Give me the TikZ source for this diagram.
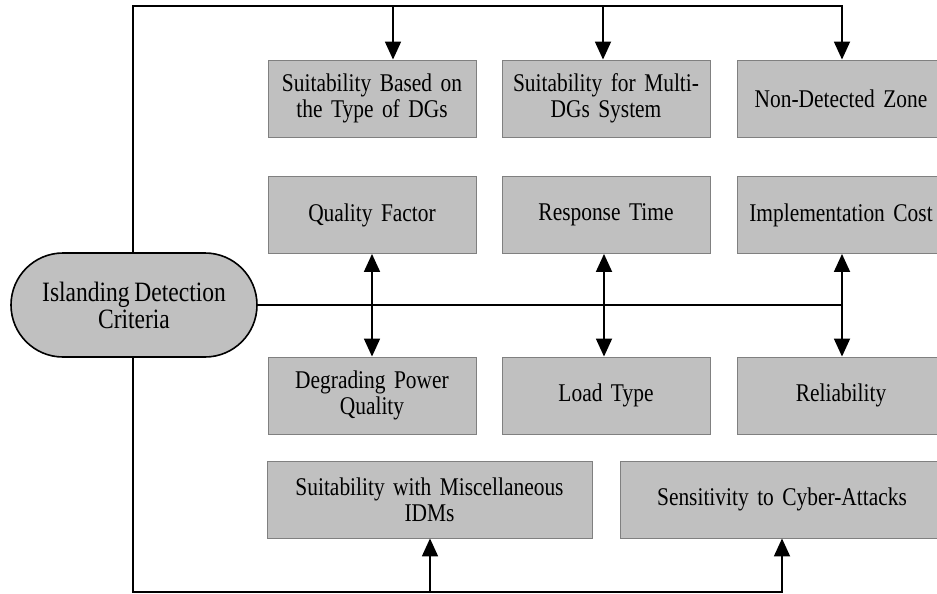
\documentclass[tikz,border=0pt]{standalone}
\usepackage{fontspec}
\setmainfont[FakeStretch=0.84,WordSpace=0.8]{Liberation Serif}
\usetikzlibrary{arrows.meta,shapes.misc}
\definecolor{boxfill}{RGB}{192,192,192}
\definecolor{boxline}{RGB}{128,128,128}
\tikzset{
  crit/.style={draw=boxline, line width=0.9pt, fill=boxfill, inner sep=0pt,
    minimum width=208pt, minimum height=77pt, align=center, text width=200pt,
    font=\fontsize{25.5}{26}\selectfont},
  widecrit/.style={crit, minimum width=325pt, text width=315pt},
  hub/.style={rounded rectangle, draw=black, line width=1.6pt, fill=boxfill,
    inner sep=0pt, minimum width=246pt, minimum height=104pt, align=center,
    font=\fontsize{28}{27}\selectfont},
  wire/.style={line width=1.8pt, line cap=rect},
  feed/.style={wire, -{Triangle[length=18pt,width=16pt]}},
  both/.style={wire, {Triangle[length=18pt,width=16pt]}-{Triangle[length=18pt,width=16pt]}}
}
\begin{document}
\begin{tikzpicture}[x=1pt, y=-1pt]
\useasboundingbox (0,0) rectangle (937,594);

% central criterion
\node[hub] (hub) at (134,305) {Islanding Detection\\Criteria};

% first row
\node[crit] (dgtype)  at (372,98.5) {Suitability Based on\\the Type of DGs};
\node[crit] (multi)   at (606,98.5) {Suitability for Multi-\\DGs System};
\node[crit] (ndz)     at (841,98.5) {Non-Detected Zone};
% second row
\node[crit] (quality) at (372,215) {Quality Factor};
\node[crit] (resp)    at (606,215) {Response Time};
\node[crit] (cost)    at (841,215) {Implementation Cost};
% third row
\node[crit] (degrade) at (372,395.5) {Degrading Power\\Quality};
\node[crit] (load)    at (606,395.5) {Load Type};
\node[crit] (rel)     at (841,395.5) {Reliability};
% fourth row
\node[widecrit] (misc)  at (429.5,499.5) {Suitability with Miscellaneous\\IDMs};
\node[widecrit, minimum width=324pt] (cyber) at (782,499.5) {Sensitivity to Cyber-Attacks};

% routing points
\coordinate (topL) at (133,6);
\coordinate (t1) at (393,6);
\coordinate (t2) at (603,6);
\coordinate (t3) at (842,6);
\coordinate (botL) at (133,592);
\coordinate (b1) at (430,592);
\coordinate (b2) at (782,592);
\coordinate (midR) at (842,305);

% upper bus
\draw[wire] (hub.north -| topL) -- (topL) -- (t3);
\draw[feed] (t1) -- (t1 |- dgtype.north);
\draw[feed] (t2) -- (t2 |- multi.north);
\draw[feed] (t3) -- (t3 |- ndz.north);

% middle bus
\draw[wire] (hub.east) -- (midR);
\draw[both] (quality.south) -- (degrade.north);
\draw[both] ([xshift=-2pt]resp.south) -- ([xshift=-2pt]load.north);
\draw[both] (cost.south -| midR) -- (rel.north -| midR);

% lower bus
\draw[wire] (hub.south -| botL) -- (botL) -- (b2);
\draw[feed] (b1) -- (b1 |- misc.south);
\draw[feed] (b2) -- (cyber.south);
\end{tikzpicture}
\end{document}
